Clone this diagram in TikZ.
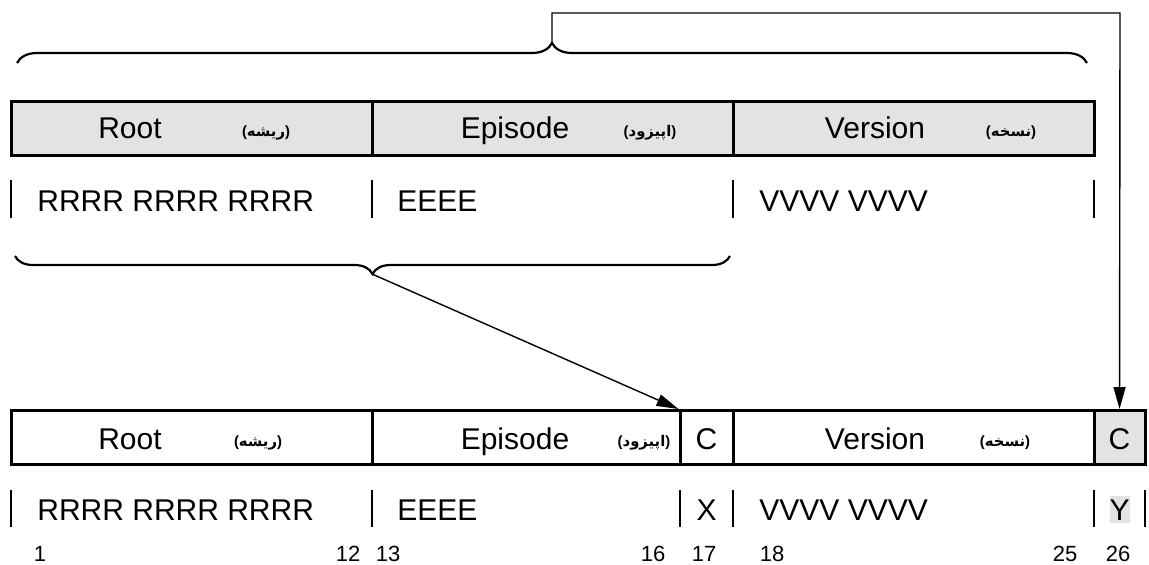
\documentclass[tikz,border=0pt]{standalone}
\usepackage{fontspec}
\setmainfont{Liberation Sans}
\newfontfamily\farsi[Script=Arabic]{DejaVu Sans}
\TeXXeTstate=1
\usetikzlibrary{arrows.meta,decorations.pathreplacing}
\newcommand{\fa}[1]{{\fontsize{7.4}{9}\selectfont\bfseries(}{\farsi\fontsize{7.4}{9}\selectfont\bfseries\beginR #1\endR}{\fontsize{7.4}{9}\selectfont\bfseries)}}

\begin{document}
\begin{tikzpicture}[x=0.5pt, y=-0.5pt]
\tikzstyle{every node} = [inner sep=0pt, anchor=base, font=\fontsize{15}{18}\selectfont]
\tikzstyle{cell} = [draw, line width=1.5pt, minimum height=27pt, anchor=center]
\tikzstyle{shaded} = [cell, fill=gray!22]
\tikzstyle{num} = [font=\fontsize{11}{13}\selectfont]
\tikzstyle{brace} = [line width=1.1pt, decorate]
\tikzstyle{conn} = [line width=0.7pt, -{Triangle[length=11pt,width=6pt]}]
\fill[white] (0,0) rectangle (1149,564);
\useasboundingbox (0,0) rectangle (1149,564);

% upper code
\node[shaded, minimum width=180.5pt] (troot) at (191.5,128) {};
\node[shaded, minimum width=180.5pt] (tepi) at (552.5,128) {};
\node[shaded, minimum width=180.5pt] (tver) at (913.5,128) {};
\node (troottxt) at (130,138) {Root};
\node (trootfa) at (266,136) {\fa{ریشه}};
\node (tepitxt) at (515,138) {Episode};
\node (tepifa) at (650,136) {\fa{اپیزود}};
\node (tvertxt) at (875,138) {Version};
\node (tverfa) at (1011,136) {\fa{نسخه}};
\node[anchor=base west] (trval) at (37,211) {RRRR RRRR RRRR};
\node[anchor=base west] (teval) at (397,211) {EEEE};
\node[anchor=base west] (tvval) at (759,211) {VVVV VVVV};
\foreach \x in {11,372,733,1094}
\draw [line width=0.6pt] (\x,180) -- (\x,218);

% braces
\draw[brace, decoration={brace, amplitude=10pt}] (17,63) -- (1087,63);
\coordinate (ttip) at (552,43);
\draw[brace, decoration={brace, mirror, amplitude=9pt}] (15,256) -- (730,256);
\coordinate (btip) at (372,274);

% lower code
\node[cell, minimum width=180.5pt] (broot) at (191.5,437.5) {};
\node[cell, minimum width=154pt] (bepi) at (526,437.5) {};
\node[cell, minimum width=26.5pt] (bc1) at (706.5,437.5) {};
\node[cell, minimum width=180.5pt] (bver) at (913.5,437.5) {};
\node[shaded, minimum width=25.5pt] (bc2) at (1119.5,437.5) {};
\node (broottxt) at (130,449) {Root};
\node (brootfa) at (258,446) {\fa{ریشه}};
\node (bepitxt) at (515,449) {Episode};
\node (bepifa) at (644,446) {\fa{اپیزود}};
\node (bc1txt) at (706.5,449) {C};
\node (bvertxt) at (875,449) {Version};
\node (bverfa) at (1005,446) {\fa{نسخه}};
\node (bc2txt) at (1119.5,449) {C};
\node[anchor=base west] (brval) at (37,520) {RRRR RRRR RRRR};
\node[anchor=base west] (beval) at (397,520) {EEEE};
\node (bxval) at (706.5,520) {X};
\node[anchor=base west] (bvval) at (759,520) {VVVV VVVV};
\node[fill=gray!22, inner ysep=1.5pt] (byval) at (1119.5,520) {Y};
\foreach \x in {11,372,680,733,1094,1145}
\draw [line width=0.6pt] (\x,490) -- (\x,527);
\foreach \x/\n in {40/1, 348/12, 388/13, 653/16, 704/17, 772/18, 1065/25, 1118/26}
\node[num] (pos\n) at (\x,561) {\n};

% arrows
\coordinate (turn) at (1120,13);
\draw[conn] (ttip) |- (turn) -- (bc2.north);
\draw[conn] (btip) -- (bc1.north west);
\end{tikzpicture}
\end{document}
